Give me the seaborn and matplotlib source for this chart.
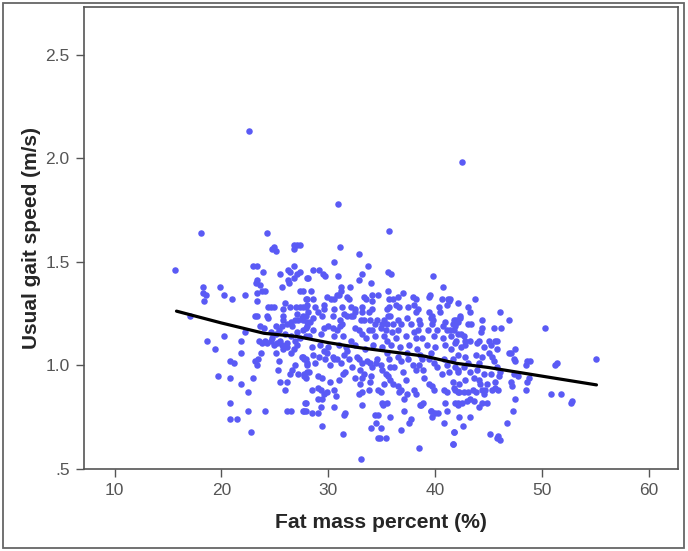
import numpy as np
import pandas as pd
import matplotlib
matplotlib.use("Agg")
import matplotlib.pyplot as plt
import seaborn as sns
from matplotlib.patches import Rectangle

# Fat mass percent (%) and usual gait speed (m/s)
fat_pct = [
    22.55, 30.9, 42.5,
    # left part, upper
    18.1, 24.3, 24.7, 24.9, 25.1, 26.8, 27.1, 26.8, 15.7, 23.0, 23.3, 26.8, 23.9, 25.5, 26.2, 26.4,
    27.1, 26.8, 28.0, 23.3, 23.2, 26.2, 26.3, 18.3, 19.9, 23.6, 25.7, 23.8, 24.1, 18.3, 18.6, 20.2,
    22.2, 23.3, 27.6, 18.4, 21.0, 23.3, 24.6, 24.4, 24.9, 25.8, 26.4, 27.0, 27.6, 27.9, 26.0, 28.0,
    23.1, 23.3, 24.3, 24.4, 25.8, 17.1, 27.1, 27.6, 27.9, 25.8, 26.1, 26.5, 26.9, 27.2, 27.6, 28.0,
    23.6, 24.0, 25.1, 25.4, 25.7, 26.6, 27.1, 27.6, 28.0, 22.2, 24.6, 24.7, 25.1, 26.0, 26.5, 26.9,
    27.4, 27.9, 18.7, 20.2, 21.8, 23.5, 23.8, 24.1, 25.2, 25.7, 26.1,
    # left part, lower
    19.4, 21.8, 20.8, 21.2, 19.7, 20.8, 21.8, 22.5, 20.8, 22.5, 24.1, 20.8, 21.5, 22.8, 23.0, 23.1,
    23.3, 23.4, 23.7, 25.1, 25.4, 25.3, 25.5, 26.1, 26.0, 26.1, 26.5, 27.6, 27.9, 27.8, 25.8, 26.1,
    26.5, 26.8, 27.1, 27.6, 27.7, 28.0, 26.4, 26.6, 26.9, 27.2, 27.7, 28.0, 24.3, 24.6, 24.9, 25.5,
    # middle part, upper
    35.7, 27.4, 31.1, 32.9, 30.5, 33.7, 28.6, 29.1, 29.5, 29.7, 27.4, 30.9, 33.2, 35.6, 35.9, 39.8,
    28.1, 32.9, 34.0, 27.4, 28.4, 31.2, 31.2, 32.0, 35.6, 40.7, 30.8, 31.0, 29.9, 30.5, 30.3, 31.8,
    31.9, 33.3, 33.5, 34.1, 34.1, 34.7, 35.7, 36.1, 36.5, 37.0, 37.9, 38.2, 39.5, 39.4, 40.6, 41.2,
    27.9, 28.6, 27.4, 28.0, 28.1, 28.8, 29.0, 29.6, 29.6, 30.5, 30.4, 31.3, 31.5, 32.1, 32.5, 32.5,
    32.1, 32.3, 33.2, 33.2, 33.8, 34.1, 35.5, 35.7, 35.6, 35.8, 36.3, 36.6, 37.5, 38.0, 38.2, 38.4,
    39.4, 39.7, 40.4, 40.5, 41.3, 41.1, 42.1, 42.3, 27.5, 28.6, 28.3, 29.4, 31.1, 31.3, 31.8, 33.1,
    33.3, 33.9, 34.6, 34.4, 35.2, 35.0, 35.5, 36.1, 36.5, 36.8, 37.4, 37.7, 38.5, 38.6, 39.6, 39.8,
    39.7, 40.7, 40.9, 41.8, 41.9, 27.9, 28.6, 29.6, 30.0, 30.4, 30.8, 31.1, 32.5, 32.9, 33.8, 34.1,
    34.9, 35.4, 36.0, 36.5, 38.0, 38.4, 39.3, 40.2, 41.1, 41.8, 28.2, 29.3, 30.5, 31.4, 32.1, 33.2,
    33.5, 34.4, 35.2, 35.5, 36.3, 37.3, 38.2, 38.8, 39.9, 40.7, 41.5, 42.1,
    28.5, 29.2, 30.0, 31.0, 31.7, 32.5, 33.4, 34.2, 35.0, 35.9, 36.7, 37.6, 38.3, 39.2, 40.0, 40.9,
    41.5,
    # middle part, lower
    27.5, 27.9, 28.0, 28.2, 27.7, 28.6, 29.1, 28.8, 29.6, 29.9, 29.7, 30.4, 30.5, 30.8, 31.5, 31.8,
    31.9, 31.6, 31.4, 32.7, 32.9, 33.2, 33.0, 33.3, 33.2, 33.6, 33.9, 34.1, 34.6, 34.9, 35.0, 35.4,
    35.5, 35.7, 35.8, 35.6, 35.8, 36.5, 36.8, 37.4, 37.5, 37.9, 38.2, 38.6, 38.8, 38.5, 39.6, 39.4,
    39.9, 40.2, 40.8, 41.1, 41.3, 41.9, 42.1,
    27.9, 29.0, 29.4, 30.2, 28.5, 29.0, 29.3, 29.9, 29.6, 30.5, 30.7, 29.0, 29.4, 27.9, 27.7, 28.5,
    29.0, 29.3, 30.5, 29.4, 31.5, 31.6, 31.4, 33.0, 33.2, 32.9, 33.2, 33.9, 33.8, 34.7, 34.9, 35.2,
    35.0, 35.5, 35.1, 34.4, 34.7, 34.0, 34.9, 34.5, 34.7, 34.8, 35.4, 33.1, 35.8, 36.1, 36.5, 36.8,
    36.6, 37.1, 37.4, 36.8, 37.1, 37.7, 37.6, 38.0, 38.2, 38.6, 38.7, 38.9, 39.4, 39.7, 39.9, 39.6,
    39.6, 40.0, 40.3, 39.7, 38.5, 40.8, 41.1, 40.9, 41.1, 41.8, 42.1, 41.9, 42.1, 41.8, 41.7, 40.8,
    30.2, 31.2, 32.2, 34.5, 36.2, 37.0, 38.9, 40.6, 39.0, 37.3, 34.0, 32.5, 31.0,
    # right part, upper
    43.7, 42.1, 41.4, 43.1, 43.3, 42.3, 42.0, 41.7, 41.9, 44.4, 46.1, 46.9, 43.1, 43.4, 44.4, 44.3,
    45.5, 46.2, 50.3, 41.4, 42.4, 42.7, 42.8, 42.0, 44.1, 45.0, 45.8,
    # right part, lower
    55.1, 51.4, 51.2, 50.8, 51.8, 52.8, 52.7, 48.6, 48.9, 48.5, 47.5, 47.1, 47.4, 47.5, 46.9, 45.6,
    45.8, 45.0, 45.3, 45.5, 45.8, 46.1, 46.0, 45.6, 45.3, 45.6, 45.9, 44.7, 44.9, 47.1, 47.2, 47.4,
    47.8, 48.5, 48.8, 48.6, 47.5, 47.3, 46.7, 45.1, 45.9, 46.1, 45.8, 43.3, 42.2, 42.6, 41.8, 41.7,
    42.1, 42.5, 43.0, 43.3, 43.6, 44.1, 44.4, 44.9, 41.9, 42.2, 42.7, 43.1, 43.5, 43.8, 41.7, 42.2,
    42.8, 43.6, 44.1, 44.2, 44.4, 44.6, 42.1, 42.7, 43.3, 43.9, 44.6, 45.2, 41.9, 42.4, 42.8, 43.3,
    43.9, 44.6, 45.2, 42.1, 42.8, 43.8, 44.4, 41.7, 43.1, 44.1,
]

gait_speed = [
    2.13, 1.78, 1.98,
    # left part, upper
    1.64, 1.64, 1.56, 1.57, 1.55, 1.58, 1.58, 1.56, 1.46, 1.48, 1.48, 1.48, 1.45, 1.44, 1.46, 1.45,
    1.44, 1.42, 1.42, 1.41, 1.40, 1.41, 1.40, 1.38, 1.38, 1.39, 1.38, 1.36, 1.36, 1.35, 1.34, 1.34,
    1.34, 1.35, 1.36, 1.31, 1.32, 1.31, 1.28, 1.28, 1.28, 1.27, 1.28, 1.28, 1.28, 1.28, 1.30, 1.32,
    1.24, 1.24, 1.24, 1.23, 1.24, 1.24, 1.25, 1.24, 1.24, 1.22, 1.20, 1.21, 1.22, 1.22, 1.22, 1.21,
    1.19, 1.18, 1.19, 1.17, 1.19, 1.19, 1.16, 1.17, 1.19, 1.16, 1.16, 1.13, 1.15, 1.15, 1.14, 1.12,
    1.13, 1.14, 1.12, 1.14, 1.12, 1.12, 1.11, 1.12, 1.11, 1.10, 1.11,
    # left part, lower
    1.08, 1.06, 1.02, 1.01, 0.95, 0.94, 0.91, 0.87, 0.82, 0.78, 0.78, 0.74, 0.74, 0.68, 0.94, 1.02,
    1.00, 1.03, 1.06, 1.06, 1.02, 0.98, 0.92, 0.92, 0.88, 0.78, 0.78, 0.78, 0.78, 0.82, 1.08, 1.09,
    1.06, 1.08, 1.10, 1.04, 1.03, 1.01, 0.96, 0.98, 1.00, 0.96, 0.95, 0.97, 1.11, 1.12, 1.10, 1.12,
    # middle part, upper
    1.65, 1.58, 1.57, 1.54, 1.50, 1.48, 1.46, 1.46, 1.44, 1.43, 1.45, 1.43, 1.44, 1.45, 1.44, 1.43,
    1.42, 1.41, 1.40, 1.36, 1.36, 1.38, 1.36, 1.38, 1.36, 1.38, 1.34, 1.34, 1.33, 1.32, 1.32, 1.33,
    1.32, 1.33, 1.32, 1.34, 1.31, 1.34, 1.32, 1.32, 1.33, 1.35, 1.33, 1.32, 1.34, 1.33, 1.32, 1.32,
    1.32, 1.32, 1.28, 1.29, 1.26, 1.28, 1.26, 1.29, 1.27, 1.27, 1.24, 1.28, 1.25, 1.28, 1.27, 1.26,
    1.24, 1.24, 1.28, 1.26, 1.26, 1.27, 1.27, 1.28, 1.24, 1.24, 1.29, 1.28, 1.28, 1.29, 1.26, 1.27,
    1.26, 1.24, 1.28, 1.26, 1.31, 1.29, 1.21, 1.23, 1.23, 1.23, 1.21, 1.24, 1.22, 1.20, 1.24, 1.22,
    1.22, 1.22, 1.22, 1.20, 1.22, 1.20, 1.20, 1.20, 1.22, 1.20, 1.23, 1.20, 1.22, 1.20, 1.23, 1.22,
    1.20, 1.19, 1.21, 1.22, 1.20, 1.18, 1.17, 1.18, 1.19, 1.18, 1.17, 1.19, 1.18, 1.17, 1.17, 1.17,
    1.18, 1.17, 1.16, 1.17, 1.16, 1.17, 1.17, 1.17, 1.17, 1.17, 1.14, 1.15, 1.14, 1.14, 1.12, 1.15,
    1.13, 1.14, 1.14, 1.12, 1.13, 1.14, 1.13, 1.13, 1.14, 1.13, 1.14, 1.15,
    1.09, 1.10, 1.09, 1.10, 1.09, 1.10, 1.08, 1.10, 1.09, 1.10, 1.09, 1.10, 1.08, 1.10, 1.09, 1.10,
    1.08,
    # middle part, lower
    1.04, 1.03, 1.00, 0.97, 0.96, 1.05, 1.04, 1.01, 1.07, 1.06, 1.03, 1.04, 1.03, 1.03, 1.05, 1.07,
    1.03, 0.97, 0.96, 1.04, 1.03, 1.01, 0.98, 0.96, 0.94, 1.02, 1.01, 0.99, 1.03, 1.00, 0.98, 0.96,
    1.06, 1.03, 0.99, 0.95, 0.93, 1.04, 1.02, 1.06, 1.03, 1.00, 0.98, 1.05, 1.03, 1.00, 1.06, 1.03,
    1.01, 0.99, 1.03, 1.00, 0.97, 0.99, 0.97,
    0.94, 0.95, 0.94, 0.92, 0.88, 0.89, 0.88, 0.87, 0.86, 0.88, 0.85, 0.84, 0.84, 0.82, 0.78, 0.77,
    0.77, 0.80, 0.80, 0.71, 0.76, 0.77, 0.67, 0.91, 0.87, 0.86, 0.81, 0.92, 0.88, 0.88, 0.87, 0.91,
    0.82, 0.82, 0.81, 0.76, 0.76, 0.70, 0.70, 0.72, 0.65, 0.65, 0.65, 0.55, 0.75, 0.91, 0.90, 0.88,
    0.87, 0.84, 0.86, 0.69, 0.78, 0.74, 0.72, 0.88, 0.86, 0.81, 0.81, 0.82, 0.91, 0.90, 0.88, 0.78,
    0.78, 0.77, 0.77, 0.75, 0.60, 0.88, 0.87, 0.82, 0.78, 0.89, 0.87, 0.82, 0.81, 0.68, 0.62, 0.72,
    1.00, 1.01, 0.99, 1.01, 0.99, 0.97, 0.98, 0.96, 0.94, 0.93, 0.95, 0.94, 0.93,
    # right part, upper
    1.32, 1.30, 1.32, 1.28, 1.26, 1.24, 1.22, 1.20, 1.19, 1.22, 1.26, 1.22, 1.20, 1.20, 1.18, 1.16,
    1.18, 1.18, 1.18, 1.17, 1.15, 1.14, 1.12, 1.12, 1.12, 1.12, 1.12,
    # right part, lower
    1.03, 1.01, 1.00, 0.86, 0.86, 0.83, 0.82, 1.02, 1.02, 1.00, 1.08, 1.06, 1.03, 1.02, 1.06, 1.12,
    1.08, 1.06, 1.04, 1.02, 0.99, 0.97, 0.95, 0.92, 0.88, 0.89, 0.88, 0.88, 0.91, 0.92, 0.90, 0.96,
    0.95, 0.88, 0.94, 0.92, 0.84, 0.78, 0.72, 0.67, 0.66, 0.64, 0.65, 0.75, 0.75, 0.71, 0.68, 0.62,
    0.82, 0.82, 0.83, 0.84, 0.83, 0.80, 0.82, 0.82, 0.88, 0.87, 0.87, 0.87, 0.88, 0.87, 0.92, 0.91,
    0.93, 0.94, 0.93, 0.91, 0.88, 0.86, 0.98, 0.99, 0.97, 0.98, 0.96, 0.96, 1.11, 1.09, 1.10, 1.12,
    1.11, 1.09, 1.10, 1.05, 1.04, 1.05, 1.04, 1.03, 1.01, 1.01,
]

# smoothed fit line
fit_x = [15.8, 20, 24, 27, 30, 33, 36, 39, 42, 45, 48, 51, 55.1]
fit_y = [1.262, 1.205, 1.155, 1.14, 1.11, 1.085, 1.065, 1.045, 1.01, 0.99, 0.965, 0.94, 0.906]

x_ticks = [10, 20, 30, 40, 50, 60]
y_ticks = [0.5, 1.0, 1.5, 2.0, 2.5]
y_tick_labels = [".5", "1.0", "1.5", "2.0", "2.5"]

df = pd.DataFrame({"fat": fat_pct, "speed": gait_speed})
fit = pd.DataFrame({"fat": fit_x, "speed": fit_y})

sns.set_style("ticks")
plt.rcParams["font.family"] = ["Liberation Sans", "DejaVu Sans"]

fig = plt.figure(figsize=(6.88, 5.51), dpi=100)
ax = fig.add_axes([0.1214, 0.1488, 0.8636, 0.8385])

sns.scatterplot(data=df, x="fat", y="speed", ax=ax, color="#5a5af5", s=22, linewidth=0, zorder=2)
sns.lineplot(data=fit, x="fat", y="speed", ax=ax, color="black", linewidth=2.3, zorder=3)

ax.set_xlim(7.1, 62.7)
ax.set_ylim(0.5, 2.73)
ax.set_xticks(x_ticks)
ax.set_yticks(y_ticks)
ax.set_yticklabels(y_tick_labels)
ax.tick_params(direction="out", length=6, width=1, color="#555555", labelcolor="#555555",
               labelsize=12.5, pad=4)
for side in ["top", "right", "left", "bottom"]:
    ax.spines[side].set_visible(True)
    ax.spines[side].set_color("#555555")
    ax.spines[side].set_linewidth(1.2)

ax.set_xlabel("Fat mass percent (%)", fontsize=15.2, fontweight="bold", labelpad=11)
ax.set_ylabel("Usual gait speed (m/s)", fontsize=15, fontweight="bold", labelpad=3)

fig.patches.append(Rectangle((0.004, 0.005), 0.99, 0.99, transform=fig.transFigure,
                             fill=False, edgecolor="#666666", linewidth=1.3))

fig.savefig("out.png", dpi=100)
